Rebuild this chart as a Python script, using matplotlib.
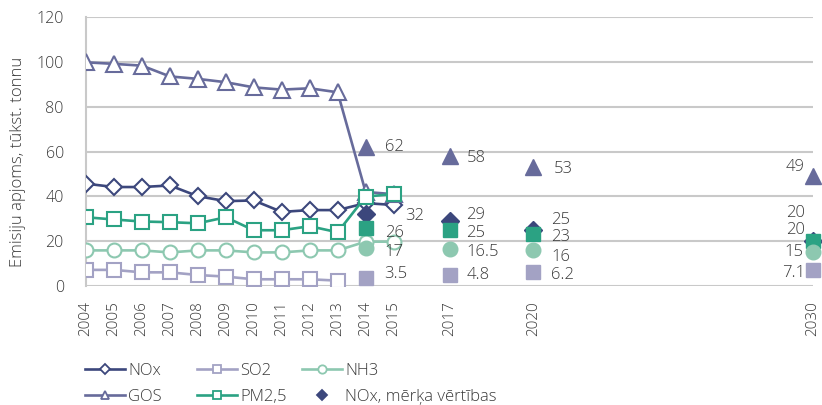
import matplotlib
matplotlib.use("Agg")
import matplotlib.pyplot as plt
from matplotlib.lines import Line2D

plt.rcParams['font.family'] = ['Open Sans', 'DejaVu Sans']
plt.rcParams['font.weight'] = 'light'

# ---- data ----
years = [2004, 2005, 2006, 2007, 2008, 2009, 2010, 2011, 2012, 2013, 2014, 2015]
nox = [45.7, 44.2, 44.2, 44.9, 40.1, 37.9, 38.2, 33.1, 33.9, 33.9, 37.0, 36.2]
so2_years = [2004, 2005, 2006, 2007, 2008, 2009, 2010, 2011, 2012, 2013]
so2 = [7.2, 7.2, 6.1, 6.1, 4.9, 4.2, 3.0, 3.0, 3.0, 2.4]
nh3 = [15.9, 15.9, 15.9, 15.0, 15.9, 15.9, 15.0, 15.0, 15.9, 15.9, 19.8, 19.8]
gos = [99.9, 99.2, 98.4, 93.6, 92.5, 91.0, 88.7, 87.7, 88.3, 86.5, 42.0, 41.0]
pm25 = [30.7, 29.7, 28.8, 28.5, 28.0, 30.7, 24.9, 24.9, 26.7, 24.0, 39.9, 41.1]

target_years = [2014, 2017, 2020, 2030]
gos_target = [62, 58, 53, 49]
nox_target = [32, 29, 25, 20]
pm25_target = [26, 25, 23, 20]
nh3_target = [17, 16.5, 16, 15]
so2_target = [3.5, 4.8, 6.2, 7.1]

tick_years = [2004, 2005, 2006, 2007, 2008, 2009, 2010, 2011, 2012, 2013, 2014, 2015, 2017, 2020, 2030]

# ---- styles ----
C_NOX = '#3C477C'
C_GOS = '#676B9B'
C_SO2 = '#A3A2C4'
C_NH3 = '#8DC8B0'
C_PM = '#2BA283'
TXT = '#3A3A3A'
GRID = '#C9C9C9'

fig = plt.figure(figsize=(8.22, 4.05), dpi=100)
ax = fig.add_axes([86/822, 1-286/405, (813-86)/822, (286-17.3)/405])

ax.set_xlim(2004, 2030)
ax.set_ylim(0, 120)
ax.set_yticks(range(0, 121, 20))
ax.yaxis.grid(True, color=GRID, linewidth=1.5)
ax.set_axisbelow(True)
for s in ['top', 'right', 'bottom']:
    ax.spines[s].set_visible(False)
ax.spines['left'].set_color(GRID)
ax.spines['left'].set_linewidth(1.5)
ax.set_xticks(tick_years)
ax.set_xticklabels([str(y) for y in tick_years], rotation=90)
ax.tick_params(axis='x', length=0, pad=11, labelsize=11, labelcolor=TXT)
ax.tick_params(axis='y', length=0, pad=16, labelsize=11.5, labelcolor=TXT)

lw = 1.9
mew = 1.5
ax.plot(years, nox, color=C_NOX, lw=lw, marker='D', ms=8.5, mfc='white', mec=C_NOX, mew=mew, zorder=3)
ax.plot(so2_years, so2, color=C_SO2, lw=lw, marker='s', ms=9.5, mfc='white', mec=C_SO2, mew=mew, zorder=3)
ax.plot(years, nh3, color=C_NH3, lw=lw, marker='o', ms=10, mfc='white', mec=C_NH3, mew=mew, zorder=3)
ax.plot(years, gos, color=C_GOS, lw=lw, marker='^', ms=11, mfc='white', mec=C_GOS, mew=mew, zorder=3)
ax.plot(years, pm25, color=C_PM, lw=lw, marker='s', ms=9.5, mfc='white', mec=C_PM, mew=mew, zorder=4)

kw = dict(linestyle='none', zorder=5, clip_on=False)
ax.plot(target_years, gos_target, marker='^', ms=11, color=C_GOS, **kw)
ax.plot(target_years, nox_target, marker='D', ms=9, color=C_NOX, **kw)
ax.plot(target_years, pm25_target, marker='s', ms=9.5, color=C_PM, **kw)
ax.plot(target_years, nh3_target, marker='o', ms=10.5, color=C_NH3, **kw)
ax.plot(target_years, so2_target, marker='s', ms=9.5, color=C_SO2, **kw)


def fmt(v):
    return '%g' % v


# label offsets in pixels (dx, dy up-positive) per target year
label_offsets = {
    'gos': [(19, 0), (17, -2), (20, -2), (-8, 9)],
    'nox': [(40, -2), (17, 6), (18, 10), (-8, 28)],
    'pm': [(19, -5), (17, -3), (18, -3), (-8, 11)],
    'nh3': [(19, -4), (17, -3), (18, -7), (-10, 0)],
    'so2': [(19, 4), (17, 0), (18, -3), (-8, -3)],
}
series = {'gos': gos_target, 'nox': nox_target, 'pm': pm25_target, 'nh3': nh3_target, 'so2': so2_target}
for key, vals in series.items():
    for i, (yr, v) in enumerate(zip(target_years, vals)):
        dx, dy = label_offsets[key][i]
        ha = 'left' if dx > 0 else 'right'
        ax.annotate(fmt(v), (yr, v), xytext=(dx*0.72, dy*0.72), textcoords='offset points',
                    ha=ha, va='center', fontsize=12, color=TXT, zorder=6, annotation_clip=False)

fig.text(18/822, 1-162/405, 'Emisiju apjoms, tūkst. tonnu', rotation=90, ha='center', va='center',
         fontsize=12, color=TXT)


# legend: three columns placed separately
def h(color, marker, ms, filled=False, line=True):
    return Line2D([], [], color=color, lw=lw if line else 0, linestyle='-' if line else 'none',
                  marker=marker, ms=ms, mfc=color if filled else 'white', mec=color, mew=1.3)


cols = [
    ([h(C_NOX, 'D', 5), h(C_GOS, '^', 6)], ['NOx', 'GOS'], 85),
    ([h(C_SO2, 's', 6), h(C_PM, 's', 6)], ['SO2', 'PM2,5'], 197),
    ([h(C_NH3, 'o', 6), h(C_NOX, 'D', 5, filled=True, line=False)], ['NH3', 'NOx, mērķa vērtības'], 302),
]
for hs, ls, x0 in cols:
    fig.legend(hs, ls, loc='center left', bbox_to_anchor=(x0/822, 1-384/405), frameon=False,
               fontsize=12, handlelength=2.4, handletextpad=0.2, borderpad=0, borderaxespad=0,
               labelspacing=0.62, labelcolor=TXT)

fig.savefig('out.png', dpi=100)
